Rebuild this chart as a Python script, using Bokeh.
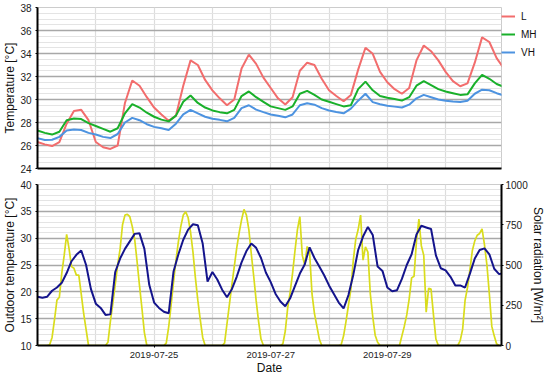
from datetime import datetime, timedelta

from bokeh.plotting import figure
from bokeh.models import (Range1d, LinearAxis, FixedTicker, SingleIntervalTicker,
                          DatetimeTickFormatter, Legend)
from bokeh.layouts import column
from bokeh.embed import file_html
from bokeh.resources import INLINE

# ---------------- data ----------------
START = datetime(2019, 7, 23, 0, 0)
X_END_HOURS = 191
TICK_DATES = ["2019-07-25", "2019-07-27", "2019-07-29"]

# indoor temperatures, every 3 h from 2019-07-23 00:00
L = [26.3, 26.1, 25.95, 26.3, 27.9, 29.0, 29.1, 28.2,
     26.3, 25.85, 25.7, 26.0, 29.7, 31.65, 31.2, 30.2,
     29.3, 28.7, 28.15, 28.6, 31.2, 33.4, 33.0, 31.7,
     30.8, 30.1, 29.5, 30.0, 32.7, 33.9, 33.1, 31.9,
     31.0, 30.1, 29.56, 30.2, 32.5, 33.2, 33.0, 31.8,
     30.8, 30.3, 29.85, 30.4, 32.6, 34.5, 33.97, 32.4,
     31.5, 30.9, 30.5, 31.0, 33.4, 34.7, 34.2, 33.4,
     32.4, 31.6, 31.15, 31.4, 33.2, 35.4, 35.0, 33.6,
     32.7]
MH = [27.3, 27.1, 26.95, 27.2, 28.2, 28.35, 28.3, 27.95,
      27.7, 27.45, 27.2, 27.5, 28.8, 29.6, 29.3, 28.85,
      28.5, 28.25, 28.1, 28.6, 29.8, 30.35, 29.7, 29.3,
      29.05, 28.9, 28.8, 29.1, 30.3, 30.7, 30.2, 29.8,
      29.4, 29.25, 29.1, 29.4, 30.5, 30.75, 30.4, 30.0,
      29.8, 29.6, 29.4, 29.5, 30.9, 31.55, 30.8, 30.3,
      30.15, 30.05, 29.9, 30.2, 31.2, 31.6, 31.25, 30.9,
      30.7, 30.55, 30.4, 30.45, 31.4, 32.15, 31.8, 31.35,
      31.1]
VH = [26.64, 26.48, 26.5, 26.75, 27.3, 27.4, 27.35, 27.1,
      26.95, 26.75, 26.65, 27.0, 28.0, 28.4, 28.2, 27.85,
      27.62, 27.5, 27.35, 27.9, 28.7, 29.1, 28.8, 28.5,
      28.32, 28.23, 28.1, 28.4, 29.25, 29.5, 29.12, 28.9,
      28.7, 28.58, 28.45, 28.7, 29.5, 29.68, 29.55, 29.25,
      29.05, 28.92, 28.8, 29.2, 29.9, 30.5, 29.77, 29.58,
      29.45, 29.38, 29.3, 29.55, 30.1, 30.4, 30.2, 30.0,
      29.9, 29.82, 29.78, 29.9, 30.5, 30.85, 30.8, 30.55,
      30.35]

# outdoor temperature, every 2 h
OUTDOOR = [19.1, 18.9, 19.1, 20.2, 20.8, 21.7, 23.5, 25.7, 26.9, 27.7, 25.0, 20.5,
           17.8, 17.0, 15.7, 15.8, 23.7, 26.2, 28.0, 29.4, 30.8, 30.9, 28.0, 21.3,
           18.0, 17.0, 16.3, 16.0, 23.8, 27.0, 29.7, 31.6, 32.6, 32.4, 29.0, 21.9,
           23.7, 22.3, 20.4, 19.0, 20.5, 22.8, 25.5, 27.6, 29.0, 28.2, 26.3, 23.6,
           21.8, 19.6, 18.2, 17.3, 18.8, 21.1, 23.4, 25.1, 28.3, 26.3, 24.7, 23.1,
           21.2, 19.6, 18.0, 16.9, 19.4, 23.2, 27.8, 30.3, 32.1, 30.6, 24.7, 23.9,
           20.8, 20.1, 20.3, 22.4, 25.0, 27.0, 30.7, 32.3, 32.0, 31.7, 26.8, 24.4,
           24.0, 22.8, 21.2, 21.2, 20.8, 23.4, 26.2, 27.8, 28.1, 27.0, 24.3, 23.3,
           23.5]

# solar radiation, hourly
SOLAR = [0, 0, 0, 0, 0, 5, 50, 160, 282, 300, 450, 561, 690, 600, 490, 480, 437, 437, 320, 200, 100, 0, 0, 0,
         0, 0, 0, 0, 0, 20, 150, 260, 380, 500, 600, 750, 810, 815, 800, 740, 660, 520, 370, 230, 80, 0, 0, 0,
         0, 0, 0, 0, 0, 15, 115, 250, 395, 530, 645, 740, 810, 830, 795, 705, 580, 420, 280, 160, 50, 0, 0, 0,
         0, 0, 0, 0, 0, 15, 135, 255, 375, 490, 605, 700, 780, 845, 810, 720, 570, 430, 280, 150, 40, 0, 0, 0,
         0, 0, 0, 0, 0, 10, 90, 235, 330, 450, 590, 720, 800, 560, 500, 615, 580, 320, 200, 120, 40, 0, 0, 0,
         0, 0, 0, 0, 0, 5, 60, 150, 250, 350, 530, 660, 720, 810, 530, 612, 580, 320, 180, 64, 20, 0, 0, 0,
         0, 0, 0, 0, 0, 0, 60, 120, 190, 290, 420, 430, 650, 785, 620, 560, 207, 355, 350, 190, 40, 0, 0, 0,
         0, 0, 0, 0, 0, 0, 30, 100, 280, 360, 470, 590, 650, 685, 696, 725, 625, 500, 320, 120, 60, 10, 0, 0]

SOLAR_TICKS = [0, 250, 500, 750, 1000]

# ---------------- helpers ----------------
EPOCH = datetime(1970, 1, 1)


def ms(dt):
    return (dt - EPOCH).total_seconds() * 1000.0


def times(n, step_h):
    return [ms(START + timedelta(hours=step_h * i)) for i in range(n)]


t_in = times(len(L), 3)
t_out = times(len(OUTDOOR), 2)
t_sol = times(len(SOLAR), 1)

day_ticks = [ms(START + timedelta(days=d)) for d in range(0, 10)]
label_ticks = [ms(datetime.strptime(s, "%Y-%m-%d")) for s in TICK_DATES]

X0 = ms(START)
X1 = ms(START + timedelta(hours=X_END_HOURS))

FONT = "Liberation Sans"
C_L, C_MH, C_VH = "#f26d6d", "#19b02a", "#4d93e0"
C_OUT, C_SOL = "#14148c", "#d9dc1c"

MAJOR_GRID = "#a8a8a8"
MINOR_GRID = "#e4e4e4"
VGRID = "#dddddd"

FRAME_W = 464
FRAME_H = 161
B_LEFT = 36
B_RIGHT = 49


def style_common(p):
    p.background_fill_color = "white"
    p.border_fill_color = "white"
    p.outline_line_color = "#cccccc"
    p.outline_line_width = 1
    for ax in p.axis:
        ax.axis_line_color = "black"
        ax.axis_line_width = 2
        ax.major_tick_line_color = "black"
        ax.major_tick_out = 2
        ax.major_tick_in = 0
        ax.minor_tick_line_color = None
        ax.major_label_text_font = FONT
        ax.major_label_text_font_size = "10px"
        ax.major_label_text_color = "#222222"
        ax.major_label_standoff = 2
        ax.axis_label_text_font = FONT
        ax.axis_label_text_font_size = "12px"
        ax.axis_label_text_font_style = "normal"
        ax.axis_label_text_color = "#111111"
        ax.axis_label_standoff = 0
    p.xgrid.ticker = FixedTicker(ticks=day_ticks)
    p.xgrid.grid_line_color = VGRID
    p.xgrid.grid_line_width = 1.2
    p.ygrid.grid_line_color = MAJOR_GRID
    p.ygrid.grid_line_width = 1.3
    p.ygrid.minor_grid_line_color = MINOR_GRID
    p.ygrid.minor_grid_line_width = 1


# ---------------- top figure ----------------
p1 = figure(frame_width=FRAME_W, frame_height=FRAME_H, x_axis_type="datetime",
            x_range=Range1d(X0, X1), y_range=Range1d(24, 38),
            output_backend="svg", toolbar_location=None,
            min_border_left=B_LEFT, min_border_right=B_RIGHT,
            min_border_top=7, min_border_bottom=8)
p1.yaxis.ticker = SingleIntervalTicker(interval=2, num_minor_ticks=4)
p1.yaxis.axis_label = "Temperature [°C]"
style_common(p1)
p1.xaxis.ticker = FixedTicker(ticks=[])
p1.xaxis.major_tick_out = 0
p1.xaxis.major_label_standoff = 0

r_l = p1.line(t_in, L, line_color=C_L, line_width=2)
r_mh = p1.line(t_in, MH, line_color=C_MH, line_width=2)
r_vh = p1.line(t_in, VH, line_color=C_VH, line_width=2)

legend = Legend(items=[("L", [r_l]), ("MH", [r_mh]), ("VH", [r_vh])],
                location="top_left", margin=0, padding=6, spacing=0,
                glyph_width=14, glyph_height=18, label_height=18,
                label_standoff=6, label_text_font=FONT,
                label_text_font_size="10px", label_text_color="#111111",
                border_line_color=None, background_fill_alpha=0)
p1.add_layout(legend, "right")

# ---------------- bottom figure ----------------
p2 = figure(frame_width=FRAME_W, frame_height=FRAME_H, x_axis_type="datetime",
            x_range=p1.x_range, y_range=Range1d(10, 40),
            output_backend="svg", toolbar_location=None,
            min_border_left=B_LEFT, min_border_right=B_RIGHT,
            min_border_top=8, min_border_bottom=30)
p2.extra_y_ranges = {"solar": Range1d(0, 1000)}
p2.yaxis.ticker = SingleIntervalTicker(interval=5, num_minor_ticks=5)
p2.yaxis.axis_label = "Outdoor temperature [°C]"
p2.xaxis.ticker = FixedTicker(ticks=label_ticks)
p2.xaxis.formatter = DatetimeTickFormatter(days="%Y-%m-%d", hours="%Y-%m-%d",
                                           hourmin="%Y-%m-%d", months="%Y-%m-%d")
p2.xaxis.axis_label = "Date"
ax_r = LinearAxis(y_range_name="solar", axis_label="Solar radiation [W/m²]",
                  ticker=FixedTicker(ticks=SOLAR_TICKS))
p2.add_layout(ax_r, "right")
style_common(p2)
p2.xaxis.major_label_text_font_size = "9.5px"
p2.xaxis.major_label_standoff = 4

p2.line(t_sol, SOLAR, y_range_name="solar", line_color=C_SOL, line_width=1.7)
p2.line(t_out, OUTDOOR, line_color=C_OUT, line_width=2)

layout = column(p1, p2)
open("out.html", "w").write(file_html(layout, INLINE))
